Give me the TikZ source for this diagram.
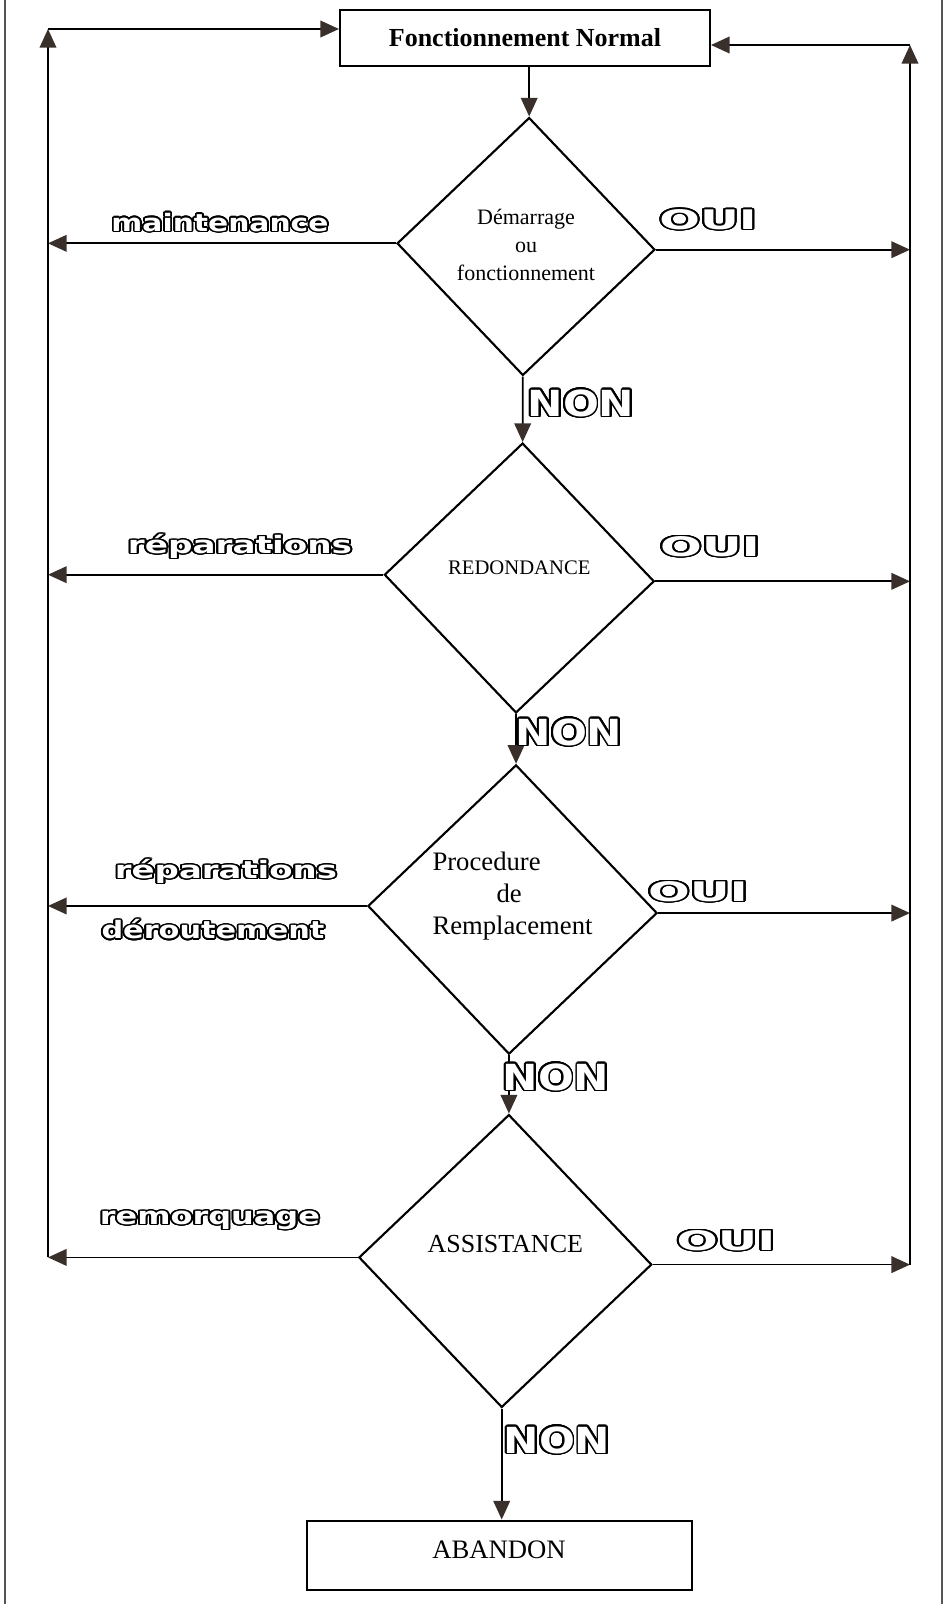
\documentclass[tikz,border=0pt]{standalone}
\usepackage{fontspec}
\setmainfont{Liberation Serif}
\newfontfamily\labfont{DejaVu Sans}
\usepackage{graphicx}
\usepackage{contour}
\contournumber{24}
\usetikzlibrary{shapes.geometric,arrows.meta}
\definecolor{tipc}{HTML}{3A302B}
\definecolor{framec}{HTML}{555555}
% hollow (outlined) text, fitted to a width, natural height
\newcommand{\hw}[2]{\contourlength{1.05pt}\resizebox{#1}{\height}{\contour{black}{\textcolor{white}{#2}}}}
% hollow text fitted to a width and a height
\newcommand{\hwh}[3]{\contourlength{0.9pt}\resizebox{#1}{#2}{\contour{black}{\textcolor{white}{#3}}}}
% lift a text inside its node by #1 (adds depth below it)
\newcommand{\lift}[2]{\raisebox{0pt}[\height][\dimexpr\depth+#1\relax]{#2}}
% undo the slight tilt of the decision shapes for their text
\newcommand{\untilt}[1]{\rotatebox{1.4}{#1}}
\begin{document}
\begin{tikzpicture}[x=0.75pt,y=-0.75pt,line width=1.3pt,
  box/.style={draw,rectangle,inner sep=0pt,line width=1.5pt},
  dia/.style={draw,diamond,inner sep=0pt,line width=1.6pt,rotate=-1.4},
  arr/.style={-{Triangle[length=14pt,width=12.5pt,color=tipc]}},
  lab/.style={inner sep=0pt,font=\labfont\bfseries\fontsize{18}{20}\selectfont},
  yn/.style={inner sep=0pt,font=\labfont\bfseries\fontsize{20}{22}\selectfont},
  frame/.style={line width=1pt,draw=framec}]
\useasboundingbox (0,0) rectangle (946,1604);
\fill[white] (0,0) rectangle (946,1604);
% page frame
\draw[frame] (5,0) -- (5,1604);
\draw[frame] (942,0) -- (942,1604);

% boxes
\node[box,minimum width=277.5pt,minimum height=42pt,
      font=\bfseries\fontsize{19.5}{23}\selectfont] (top) at (525,38) {Fonctionnement Normal};
\node[box,minimum width=288.75pt,minimum height=51.75pt,
      font=\fontsize{20}{24}\selectfont] (ab) at (499,1555) {\lift{7.5pt}{ABANDON}};

% decisions
\node[dia,minimum size=193.5pt,font=\fontsize{16.5}{21}\selectfont]
      (d1) at (526,246.5) {\untilt{\begin{tabular}{@{}c@{}}Démarrage\\ou\\fonctionnement\end{tabular}}};
\node[dia,minimum size=202.5pt,font=\fontsize{15.5}{18}\selectfont]
      (d2) at (519.3,578) {\untilt{\lift{16pt}{REDONDANCE}}};
\node[dia,minimum size=213.75pt,font=\fontsize{20}{24}\selectfont]
      (d3) at (512.5,909.5) {\untilt{\lift{20pt}{\begin{tabular}{@{}l@{}}Procedure\\\hspace*{48pt}de\\Remplacement\end{tabular}}}};
\node[dia,minimum size=219.75pt,font=\fontsize{19.5}{23}\selectfont]
      (d4) at (505.3,1261) {\untilt{\lift{26pt}{ASSISTANCE}}};

% bus corners
\coordinate (lt) at (48,29);
\coordinate (rt) at (910,45);

% main vertical flow
\draw[arr] (top.south -| d1.north) -- (d1.north);
\draw[arr] (d1.south) -- (d2.north);
\draw[arr] (d2.south) -- (d3.north);
\draw[arr] (d3.south) -- (d4.north);
\draw[arr] (d4.south) -- (d4.south |- ab.north);

% left branches
\draw[arr] (d1.west) -- (d1.west -| lt);
\draw[arr] (d2.west) -- (d2.west -| lt);
\draw[arr] (d3.west) -- (d3.west -| lt);
\draw[arr] (d4.west) -- (d4.west -| lt);
% right branches
\draw[arr] (d1.east) -- (d1.east -| rt);
\draw[arr] (d2.east) -- (d2.east -| rt);
\draw[arr] (d3.east) -- (d3.east -| rt);
\draw[arr] (d4.east) -- (d4.east -| rt);

% return buses
\draw[arr] (d4.west -| lt) -- (lt);
\draw[arr] (lt) -- (lt -| top.west);
\draw[arr] (d4.east -| rt) -- (rt);
\draw[arr] (rt) -- (rt -| top.east);

% branch labels
\node[lab] (lmaint) at (220,223) {\hw{162.75pt}{maintenance}};
\node[lab] (lrep1) at (240,547) {\hw{168pt}{réparations}};
\node[lab] (lrep2) at (226,872) {\hw{166.5pt}{réparations}};
\node[lab] (lderout) at (213,930) {\hw{167.25pt}{déroutement}};
\node[lab] (lremorq) at (210,1221) {\hw{165pt}{remorquage}};

\node[yn] (oui1) at (708,220) {\hwh{73pt}{15pt}{OUI}};
\node[yn] (oui2) at (710,547) {\hwh{75pt}{15pt}{OUI}};
\node[yn] (oui3) at (698,892) {\hwh{75pt}{15pt}{OUI}};
\node[yn] (oui4) at (726,1241) {\hwh{74pt}{15pt}{OUI}};

\node[yn] (non1) at (581,404) {\hwh{80pt}{20pt}{NON}};
\node[yn] (non2) at (569,733) {\hwh{80pt}{20pt}{NON}};
\node[yn] (non3) at (556,1078) {\hwh{80pt}{20pt}{NON}};
\node[yn] (non4) at (557,1441) {\hwh{80pt}{20pt}{NON}};
\end{tikzpicture}
\end{document}
